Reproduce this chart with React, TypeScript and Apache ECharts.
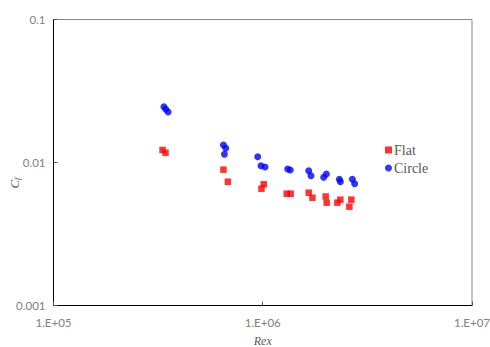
import React, { useEffect, useRef } from "react";
import * as echarts from "echarts";

// Reynolds number (Rex) and skin-friction coefficient (Cf) samples
const flatRex = [3.32e5, 3.43e5, 6.49e5, 6.81e5, 1.011e6, 9.86e5, 1.302e6, 1.36e6, 1.658e6, 1.727e6, 1.999e6, 2.021e6, 2.349e6, 2.273e6, 2.651e6, 2.594e6];
const flatCf = [0.01223, 0.01171, 0.00891, 0.007337, 0.00704, 0.006557, 0.00605, 0.00605, 0.006149, 0.005674, 0.005785, 0.005236, 0.005494, 0.005236, 0.005494, 0.00491];

const circleRex = [3.37e5, 3.44e5, 3.53e5, 6.49e5, 6.66e5, 6.56e5, 9.46e5, 9.81e5, 1.026e6, 1.316e6, 1.353e6, 1.658e6, 1.7e6, 2.014e6, 1.955e6, 2.323e6, 2.349e6, 2.681e6, 2.749e6];
const circleCf = [0.02456, 0.02355, 0.02255, 0.01326, 0.01257, 0.01141, 0.01098, 0.009497, 0.009301, 0.009005, 0.008864, 0.008764, 0.008083, 0.008308, 0.007878, 0.007628, 0.007337, 0.007628, 0.007107];

const yTickLabels: Record<string, string> = { "0.001": "0.001", "0.01": "0.01", "0.1": "0.1" };

const zip = (xs: number[], ys: number[]) => xs.map((x, i) => [x, ys[i]]);

const formatSci = (v: number) => {
  const e = Math.round(Math.log10(v));
  return "1.E+" + String(e).padStart(2, "0");
};

export default function App() {
  const ref = useRef<HTMLDivElement>(null);

  useEffect(() => {
    if (!ref.current) return;
    const chart = echarts.init(ref.current, undefined, { renderer: "svg" });
    const tickFont = { color: "#7f7f7f", fontFamily: "Lato", fontSize: 11.5 };
    chart.setOption({
      animation: false,
      backgroundColor: "#ffffff",
      grid: {
        left: 53.5,
        right: 18,
        top: 19.5,
        bottom: 41.5,
        outerBoundsMode: "none",
        containLabel: false,
        show: true,
        borderColor: "#888888",
        borderWidth: 1,
      },
      xAxis: {
        type: "log",
        logBase: 10,
        min: 1e5,
        max: 1e7,
        name: "Rex",
        nameLocation: "middle",
        nameGap: 29,
        nameTextStyle: {
          fontFamily: "Liberation Serif",
          fontStyle: "italic",
          fontSize: 12,
          color: "#595959",
        },
        axisLine: { show: true, lineStyle: { color: "#000000", width: 1 } },
        axisTick: { show: true, inside: true, length: 4, lineStyle: { color: "#555555" } },
        minorTick: { show: false },
        splitLine: { show: false },
        axisLabel: {
          ...tickFont,
          margin: 11,
          hideOverlap: false,
          showMaxLabel: true,
          overflow: "none",
          formatter: (v: number) => formatSci(v),
        },
      },
      yAxis: {
        type: "log",
        logBase: 10,
        min: 0.001,
        max: 0.1,
        axisLine: { show: true, lineStyle: { color: "#000000", width: 1 } },
        axisTick: { show: true, inside: true, length: 4, lineStyle: { color: "#555555" } },
        splitLine: { show: false },
        axisLabel: {
          ...tickFont,
          margin: 8,
          formatter: (v: number) => {
            const key = String(Number(v.toPrecision(3)));
            return yTickLabels[key] ?? key;
          },
        },
      },
      legend: {
        orient: "vertical",
        left: 380,
        top: 138,
        itemWidth: 7,
        itemHeight: 7,
        itemGap: 4,
        textStyle: { fontFamily: "Liberation Serif", fontSize: 14, color: "#595959", padding: [0, 0, 0, -3] },
        data: [
          { name: "Flat", icon: "rect" },
          { name: "Circle", icon: "circle" },
        ],
      },
      graphic: [
        {
          type: "text",
          x: 14,
          y: 183,
          rotation: Math.PI / 2,
          style: {
            text: "{c|C}{f|f}",
            align: "center",
            verticalAlign: "middle",
            rich: {
              c: { fontFamily: "Liberation Serif", fontStyle: "italic", fontSize: 13, fill: "#595959" },
              f: { fontFamily: "Liberation Serif", fontStyle: "italic", fontSize: 9, fill: "#595959", padding: [6, 0, 0, 0] },
            },
          },
        },
      ],
      series: [
        {
          name: "Flat",
          type: "scatter",
          symbol: "rect",
          symbolSize: 6.5,
          itemStyle: { color: "#ff0000" },
          data: zip(flatRex, flatCf),
        },
        {
          name: "Circle",
          type: "scatter",
          symbol: "circle",
          symbolSize: 7,
          itemStyle: { color: "#0000ff" },
          data: zip(circleRex, circleCf),
        },
      ],
    });
    return () => chart.dispose();
  }, []);

  return (
    <div
      ref={ref}
      style={{ position: "fixed", left: 0, top: 0, width: 490, height: 347 }}
    />
  );
}
